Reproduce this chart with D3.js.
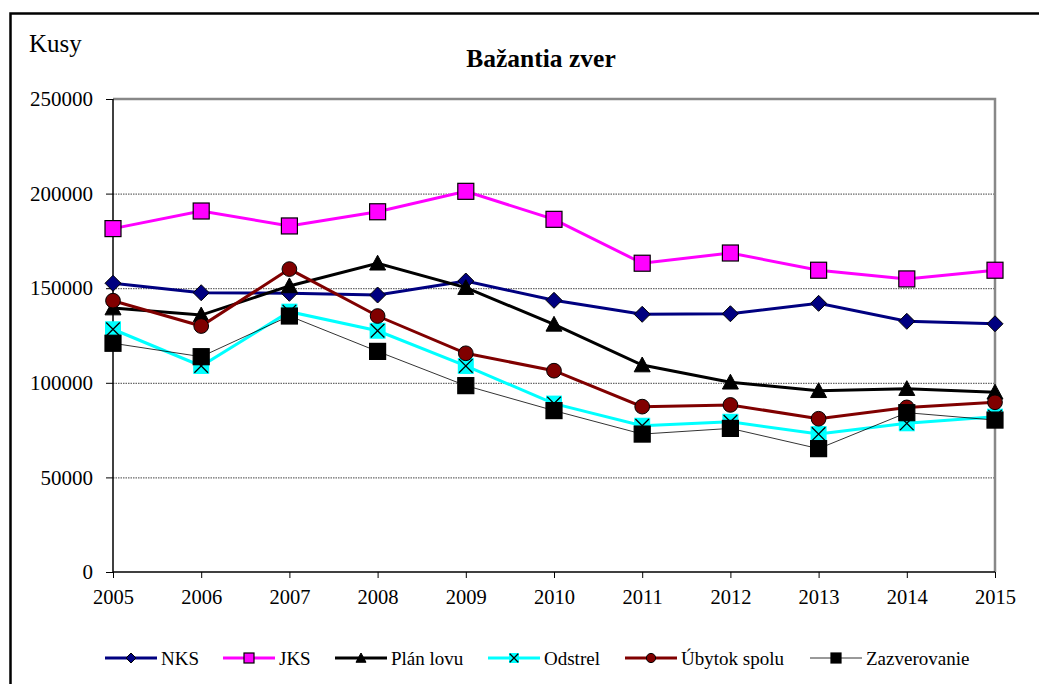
<!DOCTYPE html>
<html>
<head>
<meta charset="utf-8">
<script src="https://cdn.jsdelivr.net/npm/d3@7"></script>
<style>
  body { margin: 0; background: #fff; }
  svg, svg text { font-family: "Liberation Serif", "Times New Roman", Times, "DejaVu Serif", serif; }
</style>
</head>
<body>
<div id="chart"></div>
<script>
const years = [2005, 2006, 2007, 2008, 2009, 2010, 2011, 2012, 2013, 2014, 2015];
const nks = [152600, 147600, 147300, 146400, 153800, 143600, 136200, 136500, 142000, 132500, 131200];
const jks = [181500, 190800, 182900, 190400, 201200, 186400, 163200, 168600, 159500, 154900, 159500];
const planLovu = [139500, 135800, 151200, 163200, 150300, 130900, 109400, 100300, 95800, 96900, 95000];
const odstrel = [128300, 108900, 137600, 127500, 108900, 89000, 77300, 79400, 72900, 78600, 82100];
const ubytok = [143400, 130000, 160100, 135300, 115600, 106400, 87400, 88300, 81000, 87000, 89700];
const zazverovanie = [120900, 113800, 135300, 116600, 98500, 85300, 72900, 75900, 65200, 84200, 80300];
const yTicks = [0, 50000, 100000, 150000, 200000, 250000];

const series = [
  { name: "NKS", values: nks, color: "#000080", width: 3, marker: "diamond", fill: "#000080" },
  { name: "JKS", values: jks, color: "#ff00ff", width: 3, marker: "square", fill: "#ff00ff" },
  { name: "Plán lovu", values: planLovu, color: "#000000", width: 3, marker: "triangle", fill: "#000000" },
  { name: "Odstrel", values: odstrel, color: "#00ffff", width: 3, marker: "cross", fill: "#00ffff" },
  { name: "Úbytok spolu", values: ubytok, color: "#800000", width: 3, marker: "circle", fill: "#800000" },
  { name: "Zazverovanie", values: zazverovanie, color: "#000000", width: 0.8, marker: "square", fill: "#000000" }
];
const legendX = [105, 223, 335, 488, 625, 810];

const W = 1039, H = 684;
const plot = { left: 113, right: 995, top: 99, bottom: 572 };
const serif = "'Liberation Serif', 'Times New Roman', Times, 'DejaVu Serif', serif";

const svg = d3.select("#chart").append("svg")
  .attr("width", W).attr("height", H)
  .attr("font-family", serif);

// outer frame
svg.append("rect")
  .attr("x", 10.5).attr("y", 13.5)
  .attr("width", W + 20).attr("height", H + 20)
  .attr("fill", "none").attr("stroke", "#000").attr("stroke-width", 2.5);

const x = d3.scaleLinear().domain([years[0], years[years.length - 1]]).range([plot.left, plot.right]);
const y = d3.scaleLinear().domain([0, 250000]).range([plot.bottom, plot.top]);

// gridlines
svg.append("g").selectAll("line")
  .data(yTicks.filter(d => d > 0 && d < 250000))
  .join("line")
  .attr("x1", plot.left).attr("x2", plot.right)
  .attr("y1", d => y(d) + 0.5).attr("y2", d => y(d) + 0.5)
  .attr("stroke", "#444").attr("stroke-width", 1).attr("stroke-dasharray", "1.5,1");

// top and right plot border (gray)
svg.append("path")
  .attr("d", `M${plot.left},${y(250000)}H${plot.right}V${plot.bottom}`)
  .attr("fill", "none").attr("stroke", "#888").attr("stroke-width", 2.5);

// axes
const yAxis = d3.axisLeft(y).tickValues(yTicks).tickFormat(d3.format("d")).tickSize(7).tickPadding(13);
svg.append("g").attr("transform", `translate(${plot.left},0)`).call(yAxis)
  .attr("font-family", serif)
  .call(g => g.select(".domain").attr("stroke-width", 1.5).attr("d", `M0,${plot.top}V${plot.bottom}`))
  .call(g => g.selectAll("text").attr("font-size", 21).attr("fill", "#000"));

const xAxis = d3.axisBottom(x).tickValues(years).tickFormat(d3.format("d")).tickSize(6).tickPadding(11);
svg.append("g").attr("transform", `translate(0,${plot.bottom})`).call(xAxis)
  .attr("font-family", serif)
  .call(g => g.select(".domain").attr("stroke-width", 1.5).attr("d", `M${plot.left},0H${plot.right}`))
  .call(g => g.selectAll("text").attr("font-size", 20.5).attr("fill", "#000"));

// titles
svg.append("text").attr("x", 541).attr("y", 67).attr("text-anchor", "middle")
  .attr("font-size", 25.5).attr("font-weight", "bold").text("Bažantia zver");
svg.append("text").attr("x", 29).attr("y", 52)
  .attr("font-size", 25).text("Kusy");

function drawMarker(g, type, fill, r) {
  if (type === "diamond") {
    g.append("path").attr("d", `M0,${-r}L${r},0L0,${r}L${-r},0Z`)
      .attr("fill", fill).attr("stroke", "#000").attr("stroke-width", 1);
  } else if (type === "square") {
    g.append("rect").attr("x", -r).attr("y", -r).attr("width", 2 * r).attr("height", 2 * r)
      .attr("fill", fill).attr("stroke", "#000").attr("stroke-width", 1.2);
  } else if (type === "triangle") {
    g.append("path").attr("d", `M0,${-r}L${r},${r * 0.85}L${-r},${r * 0.85}Z`)
      .attr("fill", fill).attr("stroke", "#000").attr("stroke-width", 1);
  } else if (type === "circle") {
    g.append("circle").attr("r", r * 0.92)
      .attr("fill", fill).attr("stroke", "#000").attr("stroke-width", 1);
  } else if (type === "cross") {
    g.append("rect").attr("x", -r).attr("y", -r).attr("width", 2 * r).attr("height", 2 * r)
      .attr("fill", fill);
    const k = r * 0.85;
    g.append("path").attr("d", `M${-k},${-k}L${k},${k}M${k},${-k}L${-k},${k}`)
      .attr("stroke", "#000").attr("stroke-width", 1.3);
  }
}

const line = d3.line().x((d, i) => x(years[i])).y(d => y(d));

series.forEach(s => {
  const g = svg.append("g");
  g.append("path").datum(s.values).attr("d", line)
    .attr("fill", "none").attr("stroke", s.color).attr("stroke-width", s.width);
  s.values.forEach((v, i) => {
    const m = g.append("g").attr("transform", `translate(${x(years[i])},${y(v)})`);
    drawMarker(m, s.marker, s.fill, 8);
  });
});

// legend
const legendY = 658;
series.forEach((s, i) => {
  const lg = svg.append("g").attr("transform", `translate(${legendX[i]},${legendY})`);
  lg.append("line").attr("x1", 0).attr("x2", 52).attr("y1", 0).attr("y2", 0)
    .attr("stroke", s.color).attr("stroke-width", s.width);
  const m = lg.append("g").attr("transform", "translate(26,0)");
  drawMarker(m, s.marker, s.fill, 5);
  lg.append("text").attr("x", 56).attr("y", 6.5).attr("font-size", 19).text(s.name);
});
</script>
</body>
</html>
